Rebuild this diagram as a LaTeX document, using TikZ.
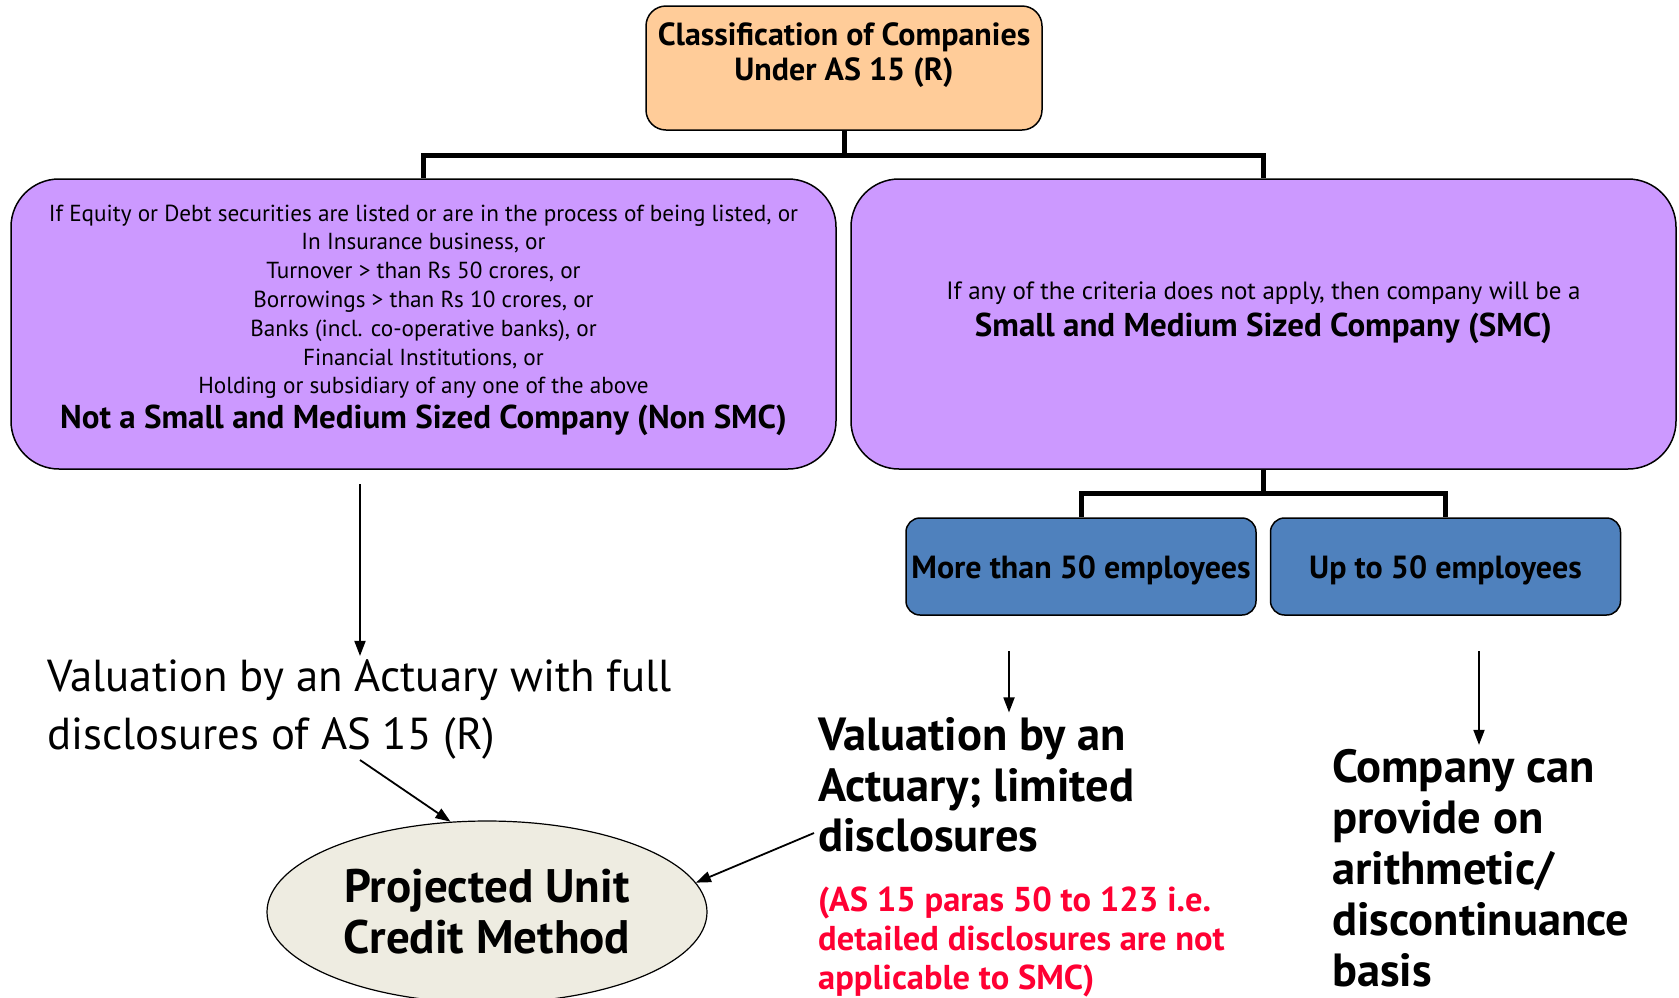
\documentclass[tikz,border=0pt]{standalone}
\usepackage{fontspec}
\setmainfont{PT Sans}
\usetikzlibrary{shapes.geometric,arrows.meta}
\definecolor{peach}{HTML}{FFCC99}
\definecolor{lilac}{HTML}{CC99FF}
\definecolor{bluebox}{HTML}{4F81BD}
\definecolor{beige}{HTML}{EEECE1}
\definecolor{redtxt}{HTML}{FF0033}
\newcommand{\fs}[2]{\fontsize{#1}{#2}\selectfont}
\tikzset{
  tree/.style={line width=5pt},
  arr/.style={line width=1.8pt,-{Triangle[length=15pt,width=11pt]}},
  topbox/.style={draw=black,line width=1.5pt,fill=peach,rounded corners=20pt,minimum width=396pt,minimum height=124pt,inner sep=0pt},
  purplebox/.style={draw=black,line width=1.5pt,fill=lilac,rounded corners=48pt,minimum width=825pt,minimum height=290pt,inner sep=0pt,align=center},
  empbox/.style={draw=black,line width=1.5pt,fill=bluebox,rounded corners=14pt,minimum width=350pt,minimum height=97pt,inner sep=0pt,font=\fs{32}{36}\bfseries},
  plain/.style={inner sep=0pt,align=left,anchor=west},
}
\begin{document}
\begin{tikzpicture}[x=1pt,y=-1pt]
\useasboundingbox (0,0) rectangle (1679,997);
% top box
\node[topbox] (top) at (844,68) {};
\node[inner sep=0pt,align=center,font=\fs{32}{35}\bfseries] (toptxt) at (844,55) {Classification of Companies\\Under AS 15 (R)};
% purple boxes
\node[purplebox] (left) at (423.5,324) {};
\node[inner sep=0pt,align=center,font=\fs{23.2}{28.8}] (lefttxt) at (423.5,320) {If Equity or Debt securities are listed or are in the process of being listed, or\\
In Insurance business, or\\
Turnover > than Rs 50 crores, or\\
Borrowings > than Rs 10 crores, or\\
Banks (incl. co-operative banks), or\\
Financial Institutions, or\\
Holding or subsidiary of any one of the above\\[5.5pt]
{\fs{33}{34}\bfseries Not a Small and Medium Sized Company (Non SMC)}};
\node[purplebox] (right) at (1263.5,324) {};
\node[inner sep=0pt,align=center,font=\fs{25}{37}] (righttxt) at (1263.5,313) {If any of the criteria does not apply, then company will be a\\
{\fs{33}{37}\bfseries Small and Medium Sized Company (SMC)}};
% tree connectors
\draw[tree] (top.south) -- (top.south |- 0,155) -| (left.north);
\draw[tree] (top.south |- 0,155) -| (right.north);
% employee boxes
\node[empbox] (more) at (1081,566.5) {\raisebox{-11.5pt}[0pt][0pt]{More than 50 employees}};
\node[empbox] (upto) at (1445.5,566.5) {\raisebox{-11.5pt}[0pt][0pt]{Up to 50 employees}};
\draw[tree] (right.south) -- (right.south |- 0,493) -| (more.north);
\draw[tree] (right.south |- 0,493) -| (upto.north);
% outcome texts
\node[plain,font=\fs{44.8}{58}] (full) at (47,709) {Valuation by an Actuary with full\\disclosures of AS 15 (R)};
\node[plain,font=\fs{46.5}{50.5}\bfseries] (limited) at (818,785) {Valuation by an\\Actuary; limited\\disclosures};
\node[plain,font=\fs{34.5}{39}\bfseries,text=redtxt] (note) at (818,942) {(AS 15 paras 50 to 123 i.e.\\detailed disclosures are not\\applicable to SMC)};
\node[plain,font=\fs{46.5}{51}\bfseries] (arith) at (1332,868) {Company can\\provide on\\arithmetic/\\discontinuance\\basis};
% ellipse
\node[ellipse,draw=black,line width=1.2pt,fill=beige,minimum width=440pt,minimum height=182pt,inner sep=0pt,align=center,font=\fs{47}{51}\bfseries] (pucm) at (487,912) {Projected Unit\\Credit Method};
% arrows
\coordinate (s1) at (360,484);
\coordinate (s2) at (1009,651);
\coordinate (s3) at (1479,651);
\coordinate (s4) at (360,760);
\coordinate (s5) at (814,833);
\draw[arr,shorten >=3pt] (s1) -- (s1 |- full.north);
\draw[arr,shorten >=5pt] (s2) -- (s2 |- limited.north);
\draw[arr,shorten >=4pt] (s3) -- (s3 |- arith.north);
\draw[arr] (s4) -- (pucm.112);
\draw[arr] (s5) -- (pucm.8);
\end{tikzpicture}
\end{document}
